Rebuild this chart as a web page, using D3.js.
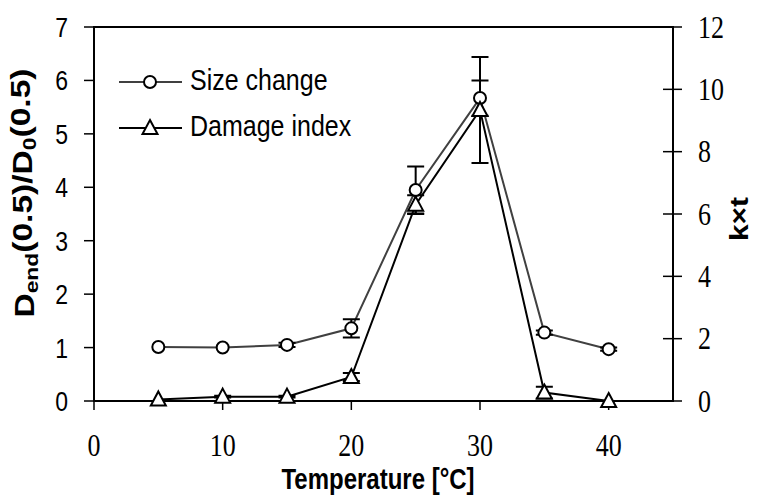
<!DOCTYPE html>
<html>
<head>
<meta charset="utf-8">
<script src="https://cdn.jsdelivr.net/npm/d3@7"></script>
<style>
  body { margin: 0; background: #fff; }
  svg { display: block; }
</style>
</head>
<body>
<div id="chart"></div>
<script>
// data
const temps = [5, 10, 15, 20, 25, 30, 35, 40]
const sizeChange = [1.01, 1.0, 1.05, 1.36, 3.95, 5.67, 1.28, 0.97]
const sizeErr = [0.0, 0.0, 0.04, 0.17, 0.44, 0.33, 0.04, 0.03]
const damage = [0.05, 0.14, 0.14, 0.77, 6.3, 9.34, 0.27, 0.0]
const damageErr = [0.0, 0.03, 0.03, 0.13, 0.3, 1.7, 0.19, 0.0]
const xTicks = [0, 10, 20, 30, 40]
const yLeftTicks = [0, 1, 2, 3, 4, 5, 6, 7]
const yRightTicks = [0, 2, 4, 6, 8, 10, 12]

const width = 759
const height = 496
const plot = {left: 94, right: 673, top: 27, bottom: 401}
const sy = 1.2 // text in the source is a little stretched vertically

const svg = d3.select("#chart")
    .append("svg")
    .attr("width", width)
    .attr("height", height)

const x = d3.scaleLinear().domain([0, 45]).range([plot.left, plot.right])
const yL = d3.scaleLinear().domain([0, 7]).range([plot.bottom, plot.top])
const yR = d3.scaleLinear().domain([0, 12]).range([plot.bottom, plot.top])

const sans = "Liberation Sans, Arial, sans-serif"
const serif = "Liberation Serif, Times New Roman, serif"

const layer_frame = svg.append("g")
const layer_lines = svg.append("g")
const layer_err = svg.append("g")
const layer_marks = svg.append("g")
const layer_text = svg.append("g")

// plot frame
layer_frame.append("path")
    .attr("fill", "none")
    .attr("stroke", "black")
    .attr("stroke-width", 2)
    .attr("d", `M${plot.left},${plot.bottom}V${plot.top}H${plot.right}V${plot.bottom}Z`)

// left ticks
layer_frame.append("g")
    .selectAll("line")
    .data(yLeftTicks)
    .join("line")
    .attr("x1", plot.left - 10).attr("x2", plot.left)
    .attr("y1", d => yL(d)).attr("y2", d => yL(d))
    .attr("stroke", "black").attr("stroke-width", 1.5)

layer_text.append("g")
    .selectAll("text")
    .data(yLeftTicks)
    .join("text")
    .attr("transform", d => `translate(68,${yL(d)}) scale(1,${sy})`)
    .attr("dy", "0.36em")
    .attr("text-anchor", "end")
    .style("font-family", sans)
    .style("font-size", "23px")
    .text(d => d)

// right ticks (cross the axis)
layer_frame.append("g")
    .selectAll("line")
    .data(yRightTicks)
    .join("line")
    .attr("x1", plot.right - 10).attr("x2", plot.right + 9)
    .attr("y1", d => yR(d)).attr("y2", d => yR(d))
    .attr("stroke", "black").attr("stroke-width", 1.5)

layer_text.append("g")
    .selectAll("text")
    .data(yRightTicks)
    .join("text")
    .attr("transform", d => `translate(698,${yR(d)}) scale(1,${sy})`)
    .attr("dy", "0.34em")
    .style("font-family", serif)
    .style("font-size", "26px")
    .text(d => d)

// bottom ticks
layer_frame.append("g")
    .selectAll("line")
    .data(xTicks)
    .join("line")
    .attr("x1", d => x(d)).attr("x2", d => x(d))
    .attr("y1", plot.bottom).attr("y2", plot.bottom + 9)
    .attr("stroke", "black").attr("stroke-width", 1.5)

layer_text.append("g")
    .selectAll("text")
    .data(xTicks)
    .join("text")
    .attr("transform", d => `translate(${x(d)},456) scale(1,${sy})`)
    .attr("text-anchor", "middle")
    .style("font-family", serif)
    .style("font-size", "26px")
    .text(d => d)

// series lines
const lineL = d3.line().x(d => x(d[0])).y(d => yL(d[1]))
const lineR = d3.line().x(d => x(d[0])).y(d => yR(d[1]))

layer_lines.append("path")
    .datum(d3.zip(temps, sizeChange))
    .attr("fill", "none")
    .attr("stroke", "#404040")
    .attr("stroke-width", 2)
    .attr("d", lineL)

layer_lines.append("path")
    .datum(d3.zip(temps, damage))
    .attr("fill", "none")
    .attr("stroke", "black")
    .attr("stroke-width", 2)
    .attr("d", lineR)

// error bars
const cap = 8.5
const errPath = (xv, y0, y1) => `M${xv},${y0}V${y1}M${xv - cap},${y0}H${xv + cap}M${xv - cap},${y1}H${xv + cap}`

layer_err.selectAll("path.size")
    .data(temps.map((t, i) => [t, sizeChange[i], sizeErr[i]]).filter(d => d[2] > 0))
    .join("path")
    .attr("class", "size")
    .attr("fill", "none").attr("stroke", "black").attr("stroke-width", 2)
    .attr("d", d => errPath(x(d[0]), yL(d[1] + d[2]), yL(d[1] - d[2])))

layer_err.selectAll("path.dmg")
    .data(temps.map((t, i) => [t, damage[i], damageErr[i]]).filter(d => d[2] > 0))
    .join("path")
    .attr("class", "dmg")
    .attr("fill", "none").attr("stroke", "black").attr("stroke-width", 2)
    .attr("d", d => errPath(x(d[0]), yR(d[1] + d[2]), yR(Math.max(0, d[1] - d[2]))))

// markers
const tri = (cx, cy) => `M${cx},${cy - 8}L${cx + 7.5},${cy + 6}L${cx - 7.5},${cy + 6}Z`

layer_marks.selectAll("circle")
    .data(d3.zip(temps, sizeChange))
    .join("circle")
    .attr("cx", d => x(d[0]))
    .attr("cy", d => yL(d[1]))
    .attr("r", 6)
    .attr("fill", "white")
    .attr("stroke", "black")
    .attr("stroke-width", 2)

layer_marks.selectAll("path.tri")
    .data(d3.zip(temps, damage))
    .join("path")
    .attr("class", "tri")
    .attr("d", d => tri(x(d[0]), yR(d[1])))
    .attr("fill", "white")
    .attr("stroke", "black")
    .attr("stroke-width", 2)

// legend
const legend = svg.append("g")
legend.append("line")
    .attr("x1", 119).attr("x2", 182).attr("y1", 82).attr("y2", 82)
    .attr("stroke", "#404040").attr("stroke-width", 2)
legend.append("circle")
    .attr("cx", 150).attr("cy", 82).attr("r", 6)
    .attr("fill", "white").attr("stroke", "black").attr("stroke-width", 2)
legend.append("line")
    .attr("x1", 119).attr("x2", 182).attr("y1", 128).attr("y2", 128)
    .attr("stroke", "black").attr("stroke-width", 2)
legend.append("path")
    .attr("d", tri(150, 128))
    .attr("fill", "white").attr("stroke", "black").attr("stroke-width", 2)
legend.append("text")
    .attr("transform", `translate(190,90) scale(1,${sy})`)
    .style("font-family", sans).style("font-size", "25px")
    .text("Size change")
legend.append("text")
    .attr("transform", `translate(190,136) scale(1,${sy})`)
    .style("font-family", sans).style("font-size", "25px")
    .text("Damage index")

// axis titles
layer_text.append("text")
    .attr("transform", `translate(378,489) scale(1,${sy})`)
    .attr("text-anchor", "middle")
    .style("font-family", sans).style("font-size", "24px").style("font-weight", "bold")
    .text("Temperature [°C]")

const yTitle = layer_text.append("text")
    .attr("transform", `translate(34,193) scale(1,${sy}) rotate(-90)`)
    .attr("text-anchor", "middle")
    .style("font-family", sans).style("font-size", "28px").style("font-weight", "bold")
yTitle.append("tspan").text("D")
yTitle.append("tspan").attr("dy", "0.2em").style("font-size", "19px").text("end")
yTitle.append("tspan").attr("dy", "-0.2em").text("(0.5)/D")
yTitle.append("tspan").attr("dy", "0.2em").style("font-size", "19px").text("0")
yTitle.append("tspan").attr("dy", "-0.2em").text("(0.5)")

layer_text.append("text")
    .attr("transform", `translate(748,219) scale(1,${sy}) rotate(-90)`)
    .attr("text-anchor", "middle")
    .style("font-family", sans).style("font-size", "25px").style("font-weight", "bold")
    .text("k×t")
</script>
</body>
</html>
